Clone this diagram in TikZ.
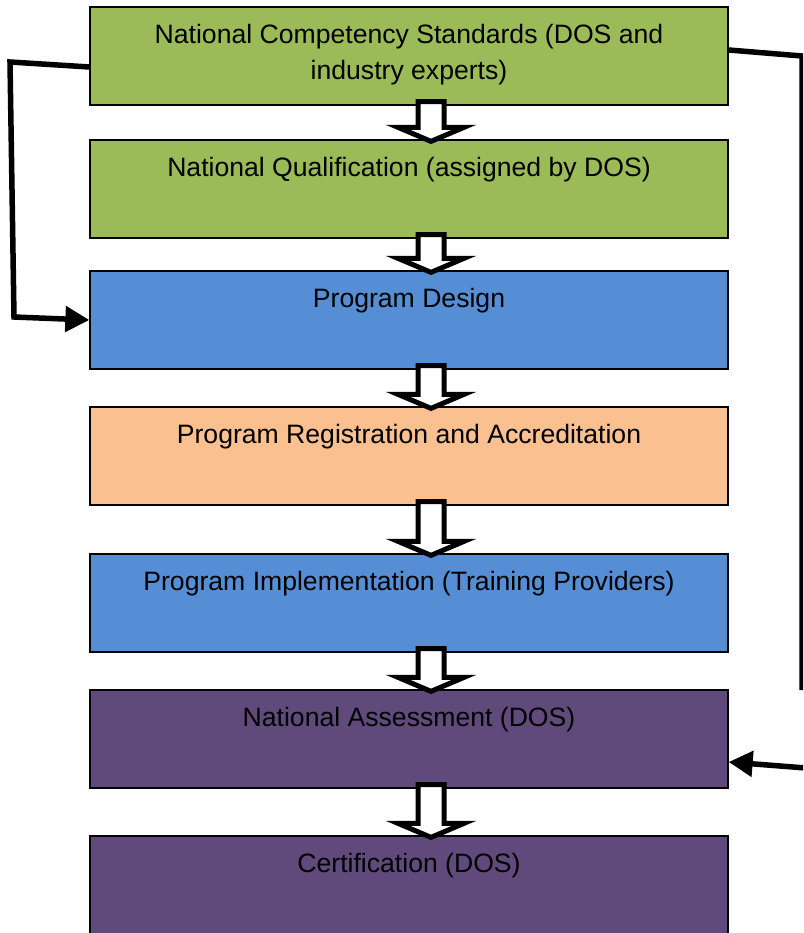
\documentclass[tikz,border=0pt]{standalone}
\usepackage{fontspec}
\setmainfont{Liberation Sans}
\usetikzlibrary{calc,arrows.meta}
\definecolor{cgreen}{HTML}{9BBB59}
\definecolor{cblue}{HTML}{558ED5}
\definecolor{corange}{HTML}{FAC090}
\definecolor{cpurple}{HTML}{604A7B}
\tikzset{
  box/.style={draw=black,line width=1.3pt,rectangle,minimum width=638pt,minimum height=98pt,inner sep=0pt},
  txt/.style={font=\fontsize{26.6}{36}\selectfont,align=center,inner sep=0pt,anchor=base},
  hollow/.style={draw=black,fill=white,line width=5pt,line join=miter},
  conn/.style={draw=black,line width=5.5pt},
  connarrow/.style={conn,-{Triangle[length=24pt,width=25pt]}}
}
\newcommand\harrow[2]{%
  \draw[hollow] let \p1=(#1.south), \p2=(#2.north) in
   (\x1+22pt-13pt,\y1+4pt) -- (\x1+22pt-13pt,\y2+12pt) -- (\x1+22pt-33pt,\y2+12pt)
   -- (\x1+22pt,\y2-2pt) -- (\x1+22pt+33pt,\y2+12pt) -- (\x1+22pt+13pt,\y2+12pt)
   -- (\x1+22pt+13pt,\y1+4pt) -- cycle;}
\begin{document}
\begin{tikzpicture}[x=1pt,y=-1pt]
\clip (0,0) rectangle (803,933);
\fill[white] (0,0) rectangle (803,933);
\node[box,fill=cgreen] (b1) at (409,56) {};
\node[box,fill=cgreen] (b2) at (409,189) {};
\node[box,fill=cblue] (b3) at (409,320) {};
\node[box,fill=corange] (b4) at (409,456) {};
\node[box,fill=cblue] (b5) at (409,603) {};
\node[box,fill=cpurple] (b6) at (409,739) {};
\node[box,fill=cpurple,minimum height=110pt] (b7) at (409,891) {};
\node[txt] (t1) at ($(b1.north)+(0,73)$) {National Competency Standards (DOS and\\industry experts)};
\node[txt] (t2) at ($(b2.north)+(0,37)$) {National Qualification (assigned by DOS)};
\node[txt] (t3) at ($(b3.north)+(0,37)$) {Program Design};
\node[txt] (t4) at ($(b4.north)+(0,37)$) {Program Registration and Accreditation};
\node[txt] (t5) at ($(b5.north)+(0,37)$) {Program Implementation (Training Providers)};
\node[txt] (t6) at ($(b6.north)+(0,37)$) {National Assessment (DOS)};
\node[txt] (t7) at ($(b7.north)+(0,37)$) {Certification (DOS)};
\harrow{b1}{b2}
\harrow{b2}{b3}
\harrow{b3}{b4}
\harrow{b4}{b5}
\harrow{b5}{b6}
\harrow{b6}{b7}
\coordinate (l1) at (10,62);
\coordinate (l2) at (14,317);
\draw[connarrow] ([yshift=-11pt]b1.west) -- (l1) -- (l2) -- (b3.west);
\coordinate (r1) at (802,56);
\coordinate (r2) at (802,690);
\coordinate (r3) at (806,768);
\draw[conn] ([yshift=6pt]b1.east) -- (r1) -- (r2);
\draw[connarrow] (r3) -- ([yshift=-23pt]b6.east);
\end{tikzpicture}
\end{document}
